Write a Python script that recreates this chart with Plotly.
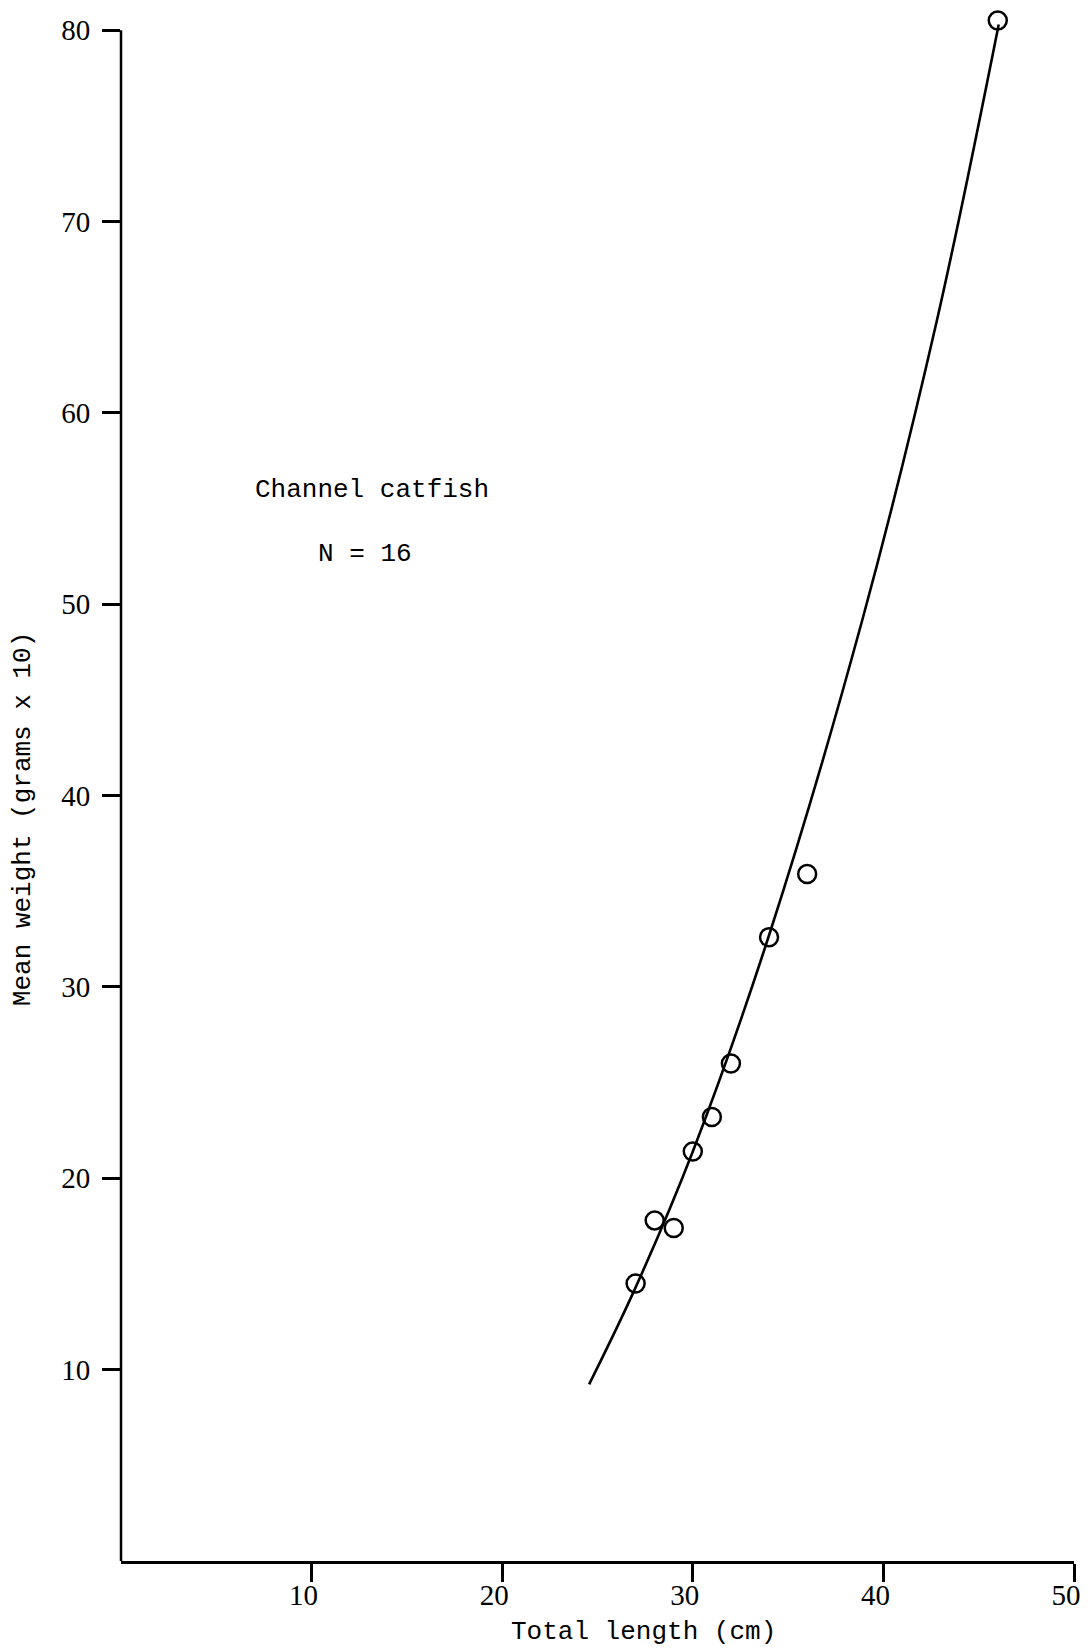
import plotly.graph_objects as go

# Observed mean weights by total length
length_cm = [27, 28, 29, 30, 31, 32, 34, 36, 46]
mean_weight = [14.5, 17.8, 17.4, 21.4, 23.2, 26.0, 32.6, 35.9, 80.5]

# Fitted curve, points
curve_length = [24.56, 27.0, 30.0, 34.0, 38.9, 42.8, 46.05]
curve_weight = [9.23, 14.3, 21.4, 32.7, 49.2, 64.8, 80.3]

x_ticks = [10, 20, 30, 40, 50]
y_ticks = [10, 20, 30, 40, 50, 60, 70, 80]
y_axis_top = 80

species_label = "Channel catfish"
n_label = "N = 16"
x_title = "Total length (cm)"
y_title = "Mean weight (grams x 10)"

mono = "Liberation Mono, Courier New, monospace"
serif = "Liberation Serif, Times New Roman, serif"

fig = go.Figure()
fig.add_trace(go.Scatter(
    x=curve_length, y=curve_weight, mode="lines",
    line=dict(color="black", width=2.6, shape="spline", smoothing=1.0),
    cliponaxis=False, showlegend=False, hoverinfo="skip"))
fig.add_trace(go.Scatter(
    x=length_cm, y=mean_weight, mode="markers",
    marker=dict(symbol="circle-open", size=18, color="black", line=dict(width=2.5, color="black")),
    cliponaxis=False, showlegend=False))

# y axis line stops at the top tick
fig.add_shape(type="line", xref="paper", yref="y", x0=0, x1=0, y0=0, y1=y_axis_top,
              line=dict(color="black", width=2.5))

fig.update_layout(
    width=1092, height=1650,
    margin=dict(l=121, r=18, t=11, b=89),
    paper_bgcolor="white", plot_bgcolor="white",
    xaxis=dict(range=[0, 50], tickvals=x_ticks, ticktext=[str(v) for v in x_ticks],
               showgrid=False, zeroline=False, showline=True, linecolor="black", linewidth=2.5,
               ticks="outside", ticklen=18, tickwidth=2.5, tickcolor="black",
               tickfont=dict(family=serif, size=29, color="black"), ticklabelshift=-8,
               ticklabelstandoff=-12),
    yaxis=dict(range=[0, 81], tickvals=y_ticks, ticktext=[str(v) for v in y_ticks],
               showgrid=False, zeroline=False, showline=False,
               ticks="outside", ticklen=18, tickwidth=2.5, tickcolor="black",
               tickfont=dict(family=serif, size=29, color="black"), ticklabelstandoff=6),
    annotations=[
        dict(x=13.18, y=55.96, xref="x", yref="y", text=species_label, showarrow=False,
             font=dict(family=mono, size=26, color="black"), xanchor="center", yanchor="middle"),
        dict(x=12.78, y=52.6, xref="x", yref="y", text=n_label, showarrow=False,
             font=dict(family=mono, size=26, color="black"), xanchor="center", yanchor="middle"),
        dict(x=27.39, y=-0.0458, xref="x", yref="paper", text=x_title, showarrow=False,
             font=dict(family=mono, size=26, color="black"), xanchor="center", yanchor="middle"),
        dict(x=-0.1028, y=38.77, xref="paper", yref="y", text=y_title, showarrow=False,
             textangle=-90, font=dict(family=mono, size=26, color="black"),
             xanchor="center", yanchor="middle"),
    ],
)

fig.write_html("out.html")
